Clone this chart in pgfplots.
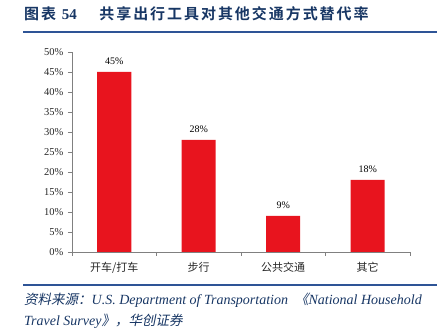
\documentclass[border=0pt]{standalone}
\usepackage{pgfplots}
\pgfplotsset{compat=1.18}
\usepackage{fontspec}
\setmainfont{Liberation Serif}
\newfontfamily\cjk{Noto Sans CJK SC}
\newfontfamily\cjkb[LetterSpace=13]{Noto Sans CJK SC Bold}
\newfontfamily\cjkit[FakeSlant=0.2]{Noto Sans CJK SC}
\definecolor{barred}{RGB}{232,20,30}
\definecolor{navy}{RGB}{23,54,100}
\definecolor{rulblue}{RGB}{46,84,150}
\definecolor{axgray}{RGB}{128,128,128}
\begin{document}
\begin{tikzpicture}[x=1pt,y=1pt]
\path (0,0) rectangle (439,329);
\node[anchor=west,text=navy,inner sep=0] at (24,315) {\fontsize{15}{16}\selectfont{\cjkb 图表}\ \textbf{54}\hspace{1.5em}{\cjkb 共享出行工具对其他交通方式替代率}};
\draw[rulblue,line width=1.3pt] (23,297) -- (437,297);
\draw[rulblue,line width=1.3pt] (23,44) -- (437,44);
\node[anchor=base west,text=navy,inner sep=0] at (24,24) {\fontsize{14}{16}\selectfont{\fontsize{13.5}{16}\selectfont\cjkit 资料来源：}\textit{U.S. Department of Transportation}\hspace{0.5em}{\fontsize{13.5}{16}\selectfont\cjkit 《}\textit{National Household}};
\node[anchor=base west,text=navy,inner sep=0] at (24,3) {\fontsize{14}{16}\selectfont\textit{Travel Survey}{\fontsize{13.5}{16}\selectfont\cjkit 》，华创证券}};
\begin{axis}[
  at={(72pt,77pt)}, anchor=south west,
  scale only axis, width=338pt, height=200pt,
  xmin=-0.5, xmax=3.5, ymin=0, ymax=50,
  axis lines=left, axis line style={-,axgray,line width=0.8pt},
  xtick={0,1,2,3},
  xticklabels={{\cjk 开车/打车},{\cjk 步行},{\cjk 公共交通},{\cjk 其它}},
  minor xtick={-0.5,0.5,1.5,2.5,3.5},
  major x tick style={draw=none},
  minor x tick style={axgray,line width=0.8pt},
  minor tick length=4pt,
  ytick={0,5,...,50},
  yticklabel={\pgfmathprintnumber{\tick}\%},
  /pgf/number format/assume math mode=true,
  y tick style={axgray,line width=0.8pt},
  major tick length=4pt,
  tick align=outside,
  yticklabel style={font=\fontsize{10.5}{12}\selectfont, text=black!85, xshift=-1pt},
  xticklabel style={font=\fontsize{11}{12}\selectfont, text=black!85, yshift=-3pt},
  ybar, bar width=34pt,
  nodes near coords={\pgfmathprintnumber{\pgfplotspointmeta}\%},
  every node near coord/.append style={font=\fontsize{10}{12}\selectfont, text=black, yshift=4pt},
]
\addplot[fill=barred, draw=none] coordinates {(0,45) (1,28) (2,9) (3,18)};
\end{axis}
\end{tikzpicture}
\end{document}
